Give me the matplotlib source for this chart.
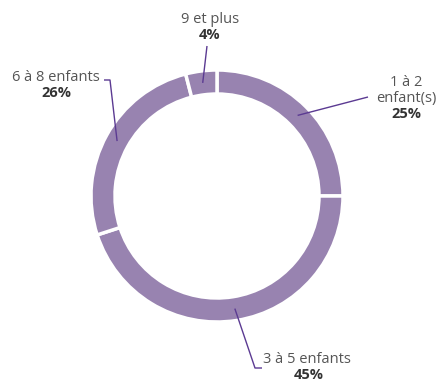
import numpy as np
import matplotlib.pyplot as plt

categories = ["1 à 2\nenfant(s)", "3 à 5 enfants", "6 à 8 enfants", "9 et plus"]
values = [25, 45, 26, 4]
pct_labels = ["25%", "45%", "26%", "4%"]

ring_color = "#9883b0"
line_color = "#5b3a92"

W, H = 445, 379
fig = plt.figure(figsize=(W / 100, H / 100), dpi=100)
ax = fig.add_axes([0, 0, 1, 1])


def py(y):
    # pixel row (from top) -> data y (from bottom)
    return H - y


cx, cy, r_out, width = 217, py(196), 126, 24
ax.pie(values, center=(cx, cy), radius=r_out, startangle=90,
       counterclock=False, colors=[ring_color] * len(values),
       wedgeprops=dict(width=width, edgecolor="white", linewidth=2.5))
ax.set_xlim(0, W)
ax.set_ylim(0, H)
ax.set_aspect("equal")
ax.axis("off")

# label placement: line bend points, text anchor (pixel coords), alignment
label_layout = [
    ([(368, 97)], (406, 106), "center"),
    ([(255, 368), (262, 368)], (263, 367), "left"),
    ([(110, 80), (104, 80)], (56, 85), "center"),
    ([(207, 46)], (210, 27), "center"),
]

total = sum(values)
start = 90.0
r_mid = r_out - width / 2
for val, cat, pct, (pts, txt, ha) in zip(values, categories, pct_labels, label_layout):
    span = 360.0 * val / total
    mid = np.deg2rad(start - span / 2)
    start -= span
    x0 = cx + r_mid * np.cos(mid)
    y0 = cy + r_mid * np.sin(mid)
    xs = [x0] + [p[0] for p in pts]
    ys = [y0] + [py(p[1]) for p in pts]
    ax.plot(xs, ys, color=line_color, lw=1, solid_capstyle="butt")
    ax.text(txt[0], py(txt[1]), cat, ha=ha, va="bottom", fontsize=10.5,
            color="#555555", family="Open Sans", linespacing=1.1,
            multialignment="center")
    ax.text(txt[0] + (0 if ha == "center" else 46), py(txt[1]) - 1, pct,
            ha="center", va="top", fontsize=10.5, fontweight="bold",
            color="#333333", family="Open Sans")

fig.savefig("out.png", dpi=100)
